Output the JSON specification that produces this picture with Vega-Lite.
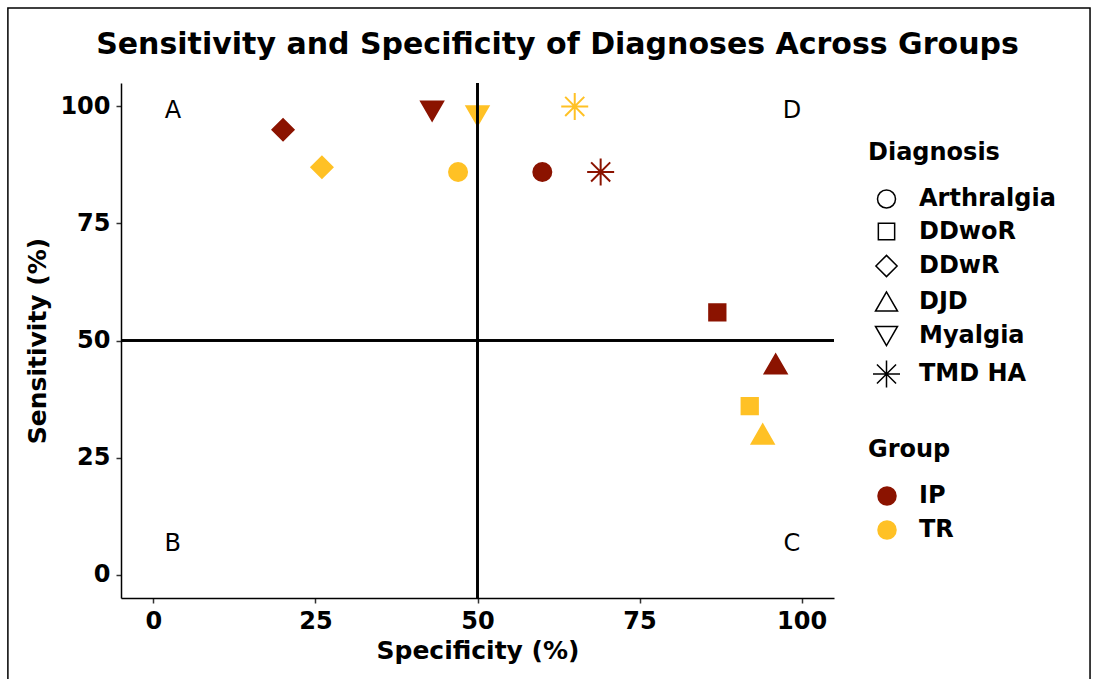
{
  "$schema": "https://vega.github.io/schema/vega-lite/v6.json",
  "width": 713,
  "height": 515,
  "autosize": {"type": "none"},
  "padding": {"left": 121, "top": 83, "right": 263, "bottom": 81},
  "background": "white",
  "title": {
    "text": "Sensitivity and Specificity of Diagnoses Across Groups",
    "font": "DejaVu Sans",
    "fontSize": 30,
    "fontWeight": "bold",
    "color": "black",
    "anchor": "middle",
    "baseline": "alphabetic",
    "offset": 0,
    "dx": 80,
    "dy": 77
  },
  "data": {
    "values": [
      {"Group": "IP", "Diagnosis": "Arthralgia", "Specificity": 60, "Sensitivity": 86},
      {"Group": "IP", "Diagnosis": "DDwoR", "Specificity": 87, "Sensitivity": 56},
      {"Group": "IP", "Diagnosis": "DDwR", "Specificity": 20, "Sensitivity": 95},
      {"Group": "IP", "Diagnosis": "DJD", "Specificity": 96, "Sensitivity": 45},
      {"Group": "IP", "Diagnosis": "Myalgia", "Specificity": 43, "Sensitivity": 99},
      {"Group": "IP", "Diagnosis": "TMD HA", "Specificity": 69, "Sensitivity": 86},
      {"Group": "TR", "Diagnosis": "Arthralgia", "Specificity": 47, "Sensitivity": 86},
      {"Group": "TR", "Diagnosis": "DDwoR", "Specificity": 92, "Sensitivity": 36},
      {"Group": "TR", "Diagnosis": "DDwR", "Specificity": 26, "Sensitivity": 87},
      {"Group": "TR", "Diagnosis": "DJD", "Specificity": 94, "Sensitivity": 30},
      {"Group": "TR", "Diagnosis": "Myalgia", "Specificity": 50, "Sensitivity": 98},
      {"Group": "TR", "Diagnosis": "TMD HA", "Specificity": 65, "Sensitivity": 100}
    ]
  },
  "layer": [
    {
      "data": {"values": [{}]},
      "mark": {"type": "rect", "filled": false, "color": "black", "strokeWidth": 1.5, "clip": false},
      "encoding": {
        "x": {"datum": -22.45, "type": "quantitative"},
        "x2": {"datum": 144.5},
        "y": {"datum": 121, "type": "quantitative"},
        "y2": {"datum": -24.7}
      }
    },
    {
      "mark": {"type": "point", "filled": true, "opacity": 1, "strokeWidth": 2},
      "encoding": {
        "x": {
          "field": "Specificity",
          "type": "quantitative",
          "scale": {"domain": [-5, 105], "nice": false, "zero": false},
          "axis": {"title": "Specificity (%)", "values": [0, 25, 50, 75, 100], "labelPadding": 6, "titlePadding": 5}
        },
        "y": {
          "field": "Sensitivity",
          "type": "quantitative",
          "scale": {"domain": [-5, 105], "nice": false, "zero": false},
          "axis": {"title": "Sensitivity (%)", "values": [0, 25, 50, 75, 100], "labelPadding": 6, "titlePadding": 9}
        },
        "color": {
          "field": "Group",
          "type": "nominal",
          "scale": {"domain": ["IP", "TR"], "range": ["#8B1300", "#FFC125"]},
          "legend": {
            "title": "Group",
            "orient": "none",
            "legendX": 747,
            "legendY": 355,
            "symbolType": "circle",
            "symbolSize": 380,
            "symbolOffset": 7,
            "symbolStrokeWidth": 0,
            "labelOffset": 20,
            "rowPadding": 10,
            "titlePadding": 22
          }
        },
        "stroke": {
          "field": "Group",
          "type": "nominal",
          "scale": {"domain": ["IP", "TR"], "range": ["#8B1300", "#FFC125"]},
          "legend": null
        },
        "shape": {
          "field": "Diagnosis",
          "type": "nominal",
          "scale": {
            "domain": ["Arthralgia", "DDwoR", "DDwR", "DJD", "Myalgia", "TMD HA"],
            "range": ["circle", "square", "diamond", "triangle-up", "triangle-down", "M-1,0L1,0M0,-1L0,1M-0.7071,-0.7071L0.7071,0.7071M-0.7071,0.7071L0.7071,-0.7071"]
          },
          "legend": {
            "title": "Diagnosis",
            "orient": "none",
            "legendX": 747,
            "legendY": 58,
            "symbolOffset": 4,
            "symbolFillColor": "transparent",
            "symbolStrokeColor": "black",
            "symbolStrokeWidth": 1.5,
            "labelOffset": 18,
            "rowPadding": 8,
            "titlePadding": 22,
            "encode": {
              "symbols": {
                "fill": {"value": "transparent"},
                "stroke": {"value": "black"},
                "strokeWidth": {"value": 1.5}
              }
            }
          }
        },
        "size": {
          "field": "Diagnosis",
          "type": "nominal",
          "scale": {
            "type": "ordinal",
            "domain": ["Arthralgia", "DDwoR", "DDwR", "DJD", "Myalgia", "TMD HA"],
            "range": [324, 266, 450, 484, 484, 729]
          },
          "legend": {
            "title": "Diagnosis",
            "orient": "none",
            "legendX": 747,
            "legendY": 58,
            "symbolOffset": 4,
            "symbolFillColor": "transparent",
            "symbolStrokeColor": "black",
            "symbolStrokeWidth": 1.5,
            "labelOffset": 18,
            "rowPadding": 8.5,
            "titlePadding": 22,
            "encode": {
              "symbols": {
                "fill": {"value": "transparent"},
                "stroke": {"value": "black"},
                "strokeWidth": {"value": 1.5}
              }
            }
          }
        }
      }
    },
    {
      "mark": {"type": "rule", "color": "black", "strokeWidth": 1.5},
      "encoding": {"x": {"datum": 50, "type": "quantitative"}}
    },
    {
      "mark": {"type": "rule", "color": "black", "strokeWidth": 1.5},
      "encoding": {"y": {"datum": 50, "type": "quantitative"}}
    },
    {
      "data": {
        "values": [
          {"label": "A", "Specificity": 3, "Sensitivity": 99},
          {"label": "B", "Specificity": 3, "Sensitivity": 6.5},
          {"label": "C", "Specificity": 98.5, "Sensitivity": 6.5},
          {"label": "D", "Specificity": 98.5, "Sensitivity": 99}
        ]
      },
      "mark": {"type": "text", "font": "DejaVu Sans", "fontSize": 24, "fontWeight": "normal", "color": "black", "align": "center", "baseline": "middle"},
      "encoding": {
        "x": {"field": "Specificity", "type": "quantitative"},
        "y": {"field": "Sensitivity", "type": "quantitative"},
        "text": {"field": "label"}
      }
    }
  ],
  "config": {
    "font": "DejaVu Sans",
    "view": {"stroke": null},
    "axis": {
      "grid": false,
      "domainColor": "black",
      "domainWidth": 1.5,
      "tickColor": "#333333",
      "tickWidth": 1.5,
      "tickSize": 5,
      "labelFont": "DejaVu Sans",
      "labelFontSize": 24,
      "labelFontWeight": "bold",
      "labelColor": "black",
      "titleFont": "DejaVu Sans",
      "titleFontSize": 25,
      "titleFontWeight": "bold",
      "titleColor": "black"
    },
    "legend": {
      "titleFont": "DejaVu Sans",
      "titleFontSize": 24,
      "titleFontWeight": "bold",
      "titleColor": "black",
      "labelFont": "DejaVu Sans",
      "labelFontSize": 24,
      "labelFontWeight": "bold",
      "labelColor": "black"
    }
  }
}
